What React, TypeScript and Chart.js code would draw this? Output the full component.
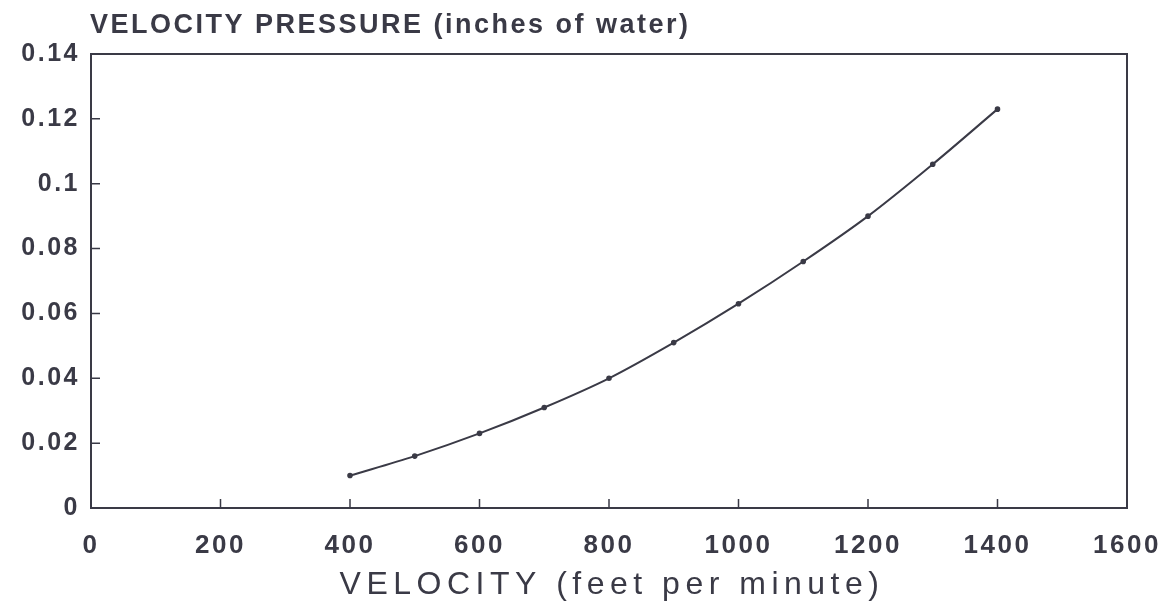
import { useEffect, useRef } from "react";
import { Chart, registerables } from "chart.js";
Chart.register(...registerables);

const velocity = [400, 500, 600, 700, 800, 900, 1000, 1100, 1200, 1300, 1400];
const pressure = [0.010, 0.016, 0.023, 0.031, 0.040, 0.051, 0.063, 0.076, 0.090, 0.106, 0.123];
const xTicks = [0, 200, 400, 600, 800, 1000, 1200, 1400, 1600];
const yTicks = [0, 0.02, 0.04, 0.06, 0.08, 0.1, 0.12, 0.14];
const yTickLabels = ["0", "0.02", "0.04", "0.06", "0.08", "0.1", "0.12", "0.14"];
const titleText = "VELOCITY PRESSURE (inches of water)";
const xTitleText = "VELOCITY (feet per minute)";

const INK = "#3a3a46";
const FONT = "'Liberation Sans', Arial, sans-serif";
const TICK_SPACING = "2.5px";

const framePlugin = {
  id: "frame",
  beforeLayout(chart: any) {
    (chart.ctx as any).letterSpacing = TICK_SPACING;
  },
  beforeDraw(chart: any) {
    (chart.ctx as any).letterSpacing = TICK_SPACING;
  },
  afterDraw(chart: any) {
    const { ctx, chartArea, scales } = chart;
    const { left, right, top, bottom } = chartArea;
    ctx.save();
    ctx.strokeStyle = INK;
    ctx.lineWidth = 2;
    ctx.strokeRect(left, top, right - left, bottom - top);
    ctx.lineWidth = 1.5;
    ctx.beginPath();
    xTicks.forEach((v) => {
      const px = scales.x.getPixelForValue(v);
      ctx.moveTo(px, bottom);
      ctx.lineTo(px, bottom - 9);
    });
    yTicks.forEach((v) => {
      const py = scales.y.getPixelForValue(v);
      ctx.moveTo(left, py);
      ctx.lineTo(left + 9, py);
    });
    ctx.stroke();
    ctx.fillStyle = INK;
    ctx.textBaseline = "alphabetic";
    // chart title
    (ctx as any).letterSpacing = "2.5px";
    ctx.font = `bold 27px ${FONT}`;
    ctx.textAlign = "left";
    ctx.fillText(titleText, left - 1, 33);
    // x-axis title
    (ctx as any).letterSpacing = "5.5px";
    ctx.font = `32px ${FONT}`;
    ctx.textAlign = "center";
    ctx.fillText(xTitleText, (left + right) / 2 + 3, 594);
    ctx.restore();
  },
};

export default function App() {
  const ref = useRef<HTMLCanvasElement | null>(null);
  useEffect(() => {
    document.body.style.margin = "0";
    if (!ref.current) return;
    const chart = new Chart(ref.current, {
      type: "line",
      data: {
        datasets: [
          {
            data: velocity.map((v, i) => ({ x: v, y: pressure[i] })),
            borderColor: INK,
            backgroundColor: INK,
            borderWidth: 2,
            pointRadius: 1.8,
            pointHoverRadius: 1.8,
            cubicInterpolationMode: "monotone",
            fill: false,
          },
        ],
      },
      options: {
        animation: false,
        responsive: false,
        layout: { padding: { top: 54, left: 8, right: 38, bottom: 4 } },
        plugins: { legend: { display: false }, tooltip: { enabled: false }, title: { display: false } },
        scales: {
          x: {
            type: "linear",
            min: 0,
            max: 1600,
            afterBuildTicks: (s: any) => {
              s.ticks = xTicks.map((v) => ({ value: v }));
            },
            grid: { display: false, drawTicks: false },
            border: { display: false },
            ticks: {
              padding: 22,
              color: INK,
              font: { family: FONT, size: 26, weight: "bold" },
              callback: (v: any) => String(v),
              maxRotation: 0,
              autoSkip: false,
            },
            title: { display: false },
            afterFit: (s: any) => {
              s.height = 607 - 508 - 4;
              s.paddingLeft = 0;
              s.paddingRight = 0;
            },
          },
          y: {
            type: "linear",
            min: 0,
            max: 0.14,
            afterBuildTicks: (s: any) => {
              s.ticks = yTicks.map((v) => ({ value: v }));
            },
            grid: { display: false, drawTicks: false },
            border: { display: false },
            ticks: {
              padding: 11,
              color: INK,
              font: { family: FONT, size: 25, weight: "bold" },
              callback: (v: any) => {
                const i = yTicks.findIndex((t) => Math.abs(t - v) < 1e-9);
                return i >= 0 ? yTickLabels[i] : "";
              },
              autoSkip: false,
            },
            afterFit: (s: any) => {
              s.width = 91 - 8;
              s.paddingTop = 0;
              s.paddingBottom = 0;
            },
          },
        },
      },
      plugins: [framePlugin],
    } as any);
    return () => chart.destroy();
  }, []);
  return (
    <div style={{ width: 1165, height: 607, background: "#fff" }}>
      <canvas ref={ref} width={1165} height={607} />
    </div>
  );
}
